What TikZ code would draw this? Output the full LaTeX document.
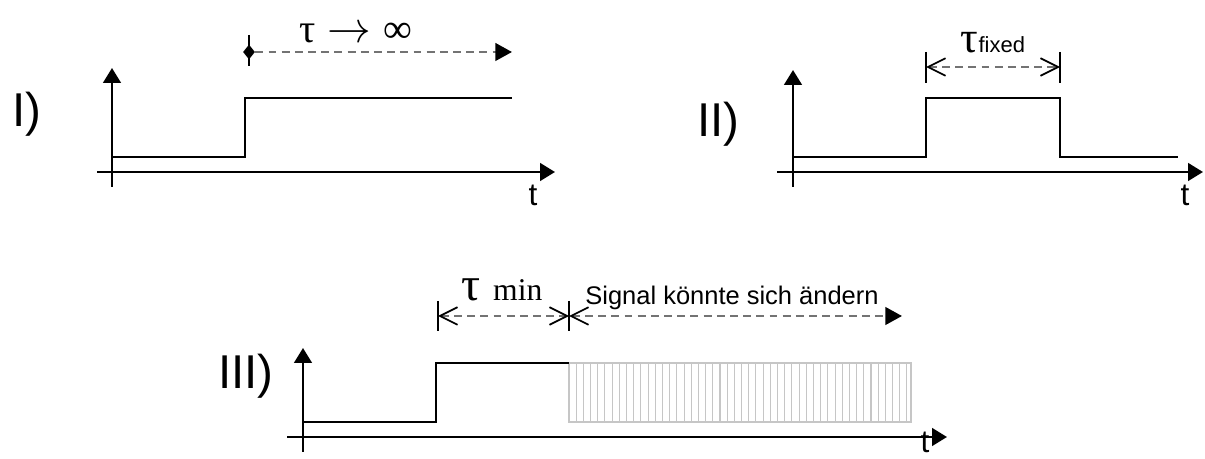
\documentclass[tikz,border=0pt]{standalone}
\usepackage{fontspec}
\setmainfont{Liberation Sans}
\newfontfamily\grfont{Liberation Serif}
\usepackage{tikz}
\usetikzlibrary{arrows.meta, shapes.geometric}

\begin{document}
\begin{tikzpicture}[
    axis/.style={line width=1.5pt, -{Triangle[length=8.5pt,width=10pt]}},
    signal/.style={line width=1.2pt},
    dimline/.style={black!55, line width=1.5pt, dash pattern=on 4.5pt off 3pt},
    marktick/.style={line width=1.1pt},
    hatch/.style={gray!45, line width=0.6pt},
    casefont/.style={font=\fontsize{27}{30}\selectfont, inner sep=0pt},
    tfont/.style={font=\fontsize{18}{20}\selectfont, inner sep=0pt}
  ]
      \useasboundingbox (0,0) rectangle (24.10,9.18);

      % I) step, tau -> infinity
      \node[casefont, anchor=base west] (caseI) at (0.24,6.64) {I)};
      \draw[axis] (2.24,5.44) -- (2.24,7.82);
      \draw[axis] (1.94,5.74) -- (11.10,5.74);
      \node[tfont, anchor=base] (tI) at (10.66,5.06) {t};
      \draw[signal] (2.24,6.04) -- (4.90,6.04) -- (4.90,7.22) -- (10.24,7.22);

      \node[diamond, fill=black, inner sep=0pt, minimum width=0.24cm, minimum height=0.3cm] (infstart) at (4.98,8.14) {};
      \coordinate (infend) at (10.24,8.14);
      \draw[marktick] (4.98,8.48) -- (4.98,7.86);
      \draw[dimline, -{Triangle[length=9.5pt,width=10pt,black]}] (infstart) -- (infend);
      \node[font=\fontsize{23}{25}\selectfont, inner sep=0pt, anchor=base] (tauinf) at (7.12,8.32)
           {{\grfont τ}\hspace{7pt}$\rightarrow$\hspace{7pt}{\grfont ∞}};

      % II) pulse, fixed tau
      \node[casefont, anchor=base west] (caseII) at (13.94,6.44) {II)};
      \draw[axis] (15.86,5.44) -- (15.86,7.78);
      \draw[axis] (15.54,5.74) -- (24.06,5.74);
      \node[tfont, anchor=base] (tII) at (23.70,5.06) {t};
      \draw[signal] (15.86,6.04) -- (18.52,6.04) -- (18.52,7.22) -- (21.20,7.22)
                    -- (21.20,6.04) -- (23.56,6.04);

      \draw[marktick] (18.52,8.14) -- (18.52,7.52);
      \draw[marktick] (21.20,8.14) -- (21.20,7.52);
      \coordinate (fixA) at (18.52,7.84);
      \coordinate (fixB) at (21.20,7.84);
      \draw[dimline, {Straight Barb[length=10pt,width=10pt,black,line width=1pt]}-{Straight Barb[length=10pt,width=10pt,black,line width=1pt]}] (fixA) -- (fixB);
      \node[anchor=base, inner sep=0pt] (taufix) at (19.86,8.12)
           {{\grfont\fontsize{25}{27}\selectfont τ}{\fontsize{12.5}{14}\selectfont fixed}};

      % III) minimum tau, signal may change afterwards
      \node[casefont, anchor=base west] (caseIII) at (4.36,1.40) {III)};
      \draw[axis] (6.06,0.14) -- (6.06,2.22);
      \draw[axis] (5.74,0.44) -- (18.94,0.44);
      \node[tfont, anchor=base] (tIII) at (18.50,0.12) {t};

      \foreach \i in {0,...,47}
        \draw[hatch] ({11.38+\i*0.1438},0.74) -- ++(0,1.18);
      \draw[hatch] (11.38,0.74) rectangle (18.22,1.92);
      \draw[signal] (6.06,0.74) -- (8.72,0.74) -- (8.72,1.92) -- (11.38,1.92);

      \draw[marktick] (8.76,3.16) -- (8.76,2.56);
      \draw[marktick] (11.38,3.16) -- (11.38,2.56);
      \coordinate (minA) at (8.76,2.86);
      \coordinate (minB) at (11.38,2.86);
      \coordinate (chgB) at (18.04,2.86);
      \draw[dimline, {Straight Barb[length=10pt,width=10pt,black,line width=1pt]}-{Straight Barb[length=10pt,width=10pt,black,line width=1pt]}] (minA) -- (minB);
      \draw[dimline, {Straight Barb[length=10pt,width=10pt,black,line width=1pt]}-{Triangle[length=9.5pt,width=10pt,black]}] (minB) -- (chgB);
      \node[anchor=base, inner sep=0pt] (taumin) at (10.04,3.16)
           {{\grfont\fontsize{27}{29}\selectfont τ}\hspace{0.25cm}{\grfont\fontsize{18}{20}\selectfont min}};
      \node[anchor=base, inner sep=0pt, font=\fontsize{14.5}{16}\selectfont] (change) at (14.64,3.08)
           {Signal könnte sich ändern};
\end{tikzpicture}
\end{document}
